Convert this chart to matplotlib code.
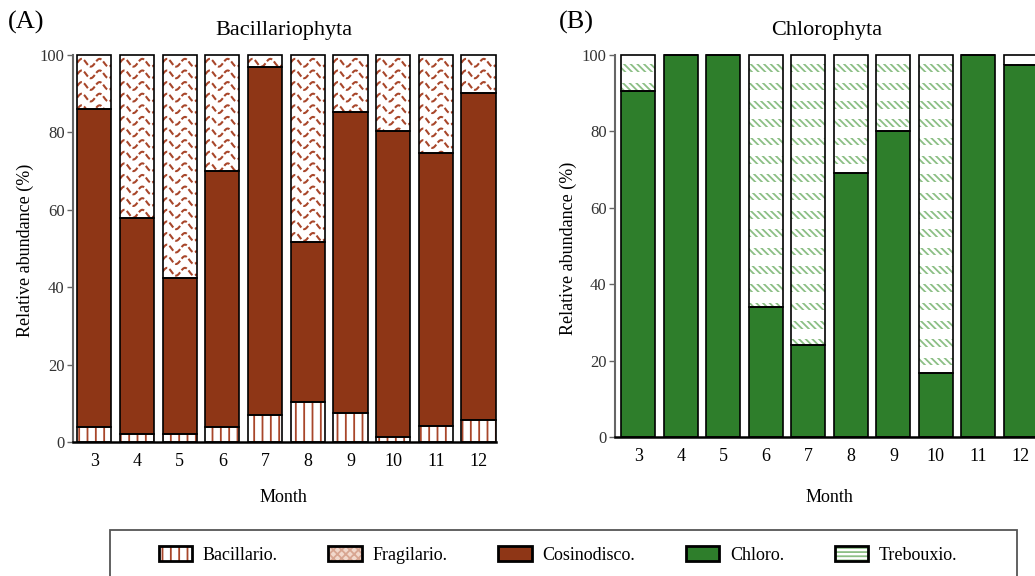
import numpy as np
import matplotlib.pyplot as plt
from matplotlib.patches import Patch, Rectangle

plt.rcParams['font.family'] = ['Liberation Serif', 'DejaVu Serif']
plt.rcParams['hatch.linewidth'] = 1.3

months = [3, 4, 5, 6, 7, 8, 9, 10, 11, 12]

# panel A - Bacillariophyta (%)
bacillario = [4.0, 2.0, 2.0, 3.8, 7.0, 10.4, 7.6, 1.2, 4.2, 5.7]
cosinodisco = [82.0, 55.8, 40.3, 66.3, 90.0, 41.4, 77.8, 79.2, 70.4, 84.6]
fragilario = [14.0, 42.2, 57.7, 29.9, 3.0, 48.2, 14.6, 19.6, 25.4, 9.7]

# panel B - Chlorophyta (%)
chloro = [90.7, 100.0, 100.0, 34.2, 24.1, 69.1, 80.0, 16.8, 100.0, 97.4]
trebouxio = [9.3, 0.0, 0.0, 65.8, 75.9, 30.9, 20.0, 83.2, 0.0, 2.6]

legend_labels = ['Bacillario.', 'Fragilario.', 'Cosinodisco.', 'Chloro.', 'Trebouxio.']

brown = '#8E3616'
brown_line = '#A8462A'
green = '#2E7E2B'
green_hatch = '#8CBF85'
W = 0.8


def style_axes(ax):
    ax.spines['top'].set_visible(False)
    ax.spines['right'].set_visible(False)
    ax.spines['left'].set_color('#666666')
    ax.spines['left'].set_linewidth(1.5)
    ax.spines['bottom'].set_color('black')
    ax.spines['bottom'].set_linewidth(1.8)
    ax.set_ylim(0, 100)
    ax.set_yticks([0, 20, 40, 60, 80, 100])
    ax.set_xticks(months)
    ax.tick_params(axis='y', length=4, width=1, color='#666666', labelsize=12,
                   labelcolor='#333333', pad=2)
    ax.tick_params(axis='x', length=0, labelsize=13, pad=8)


def outline(ax, vals, bottom):
    ax.bar(months, vals, W, bottom=bottom, fill=False, edgecolor='black',
           linewidth=1.2, zorder=4, clip_on=False)


def wavy_hatch(ax, bars):
    for rect in bars:
        x0 = rect.get_x()
        w = rect.get_width()
        y0 = rect.get_y()
        top = y0 + rect.get_height()
        xs = np.linspace(x0, x0 + w, 100)
        yy = top - 2.0
        while yy > y0 - 1.5:
            ys = yy + 1.0 * np.sin(2 * np.pi * (xs - x0) / 0.42)
            ln, = ax.plot(xs, ys, color=brown_line, lw=1.5, dashes=(3, 1.2), zorder=3)
            ln.set_clip_path(rect)
            yy -= 3.0


def band_hatch(ax, bars):
    for rect in bars:
        if rect.get_height() <= 0:
            continue
        x0 = rect.get_x()
        w = rect.get_width()
        y0 = rect.get_y()
        top = y0 + rect.get_height()
        yb = top - 4.4
        while yb > y0 - 2.0:
            band = Rectangle((x0, yb), w, 2.0, facecolor='none', edgecolor=green_hatch,
                             hatch='\\\\\\\\\\', linewidth=0, zorder=3)
            ax.add_patch(band)
            band.set_clip_path(rect)
            yb -= 4.8


fig = plt.figure(figsize=(10.35, 5.76), dpi=100)
axA = fig.add_axes([0.0705, 0.2326, 0.4083, 0.6719])
axB = fig.add_axes([0.5942, 0.2408, 0.4086, 0.6637])

# (A)
b1 = np.array(bacillario)
b2 = b1 + np.array(cosinodisco)
axA.bar(months, bacillario, W, color='white', edgecolor=brown_line, hatch='||',
        linewidth=0, zorder=2)
axA.bar(months, cosinodisco, W, bottom=b1, color=brown, linewidth=0, zorder=2)
frag_bars = axA.bar(months, fragilario, W, bottom=b2, color='white', linewidth=0, zorder=2)
wavy_hatch(axA, frag_bars)
outline(axA, bacillario, 0)
outline(axA, cosinodisco, b1)
outline(axA, fragilario, b2)
axA.set_xlim(2.5, 12.4)
style_axes(axA)

# (B)
c1 = np.array(chloro)
axB.bar(months, chloro, W, color=green, linewidth=0, zorder=2)
treb_bars = axB.bar(months, trebouxio, W, bottom=c1, color='white', linewidth=0, zorder=2)
band_hatch(axB, treb_bars)
outline(axB, chloro, 0)
outline(axB, trebouxio, c1)
axB.set_xlim(2.45, 12.4)
style_axes(axB)

# titles and labels
fig.text(26 / 1035, 1 - 22 / 576, '(A)', fontsize=19, ha='center', va='center')
fig.text(576 / 1035, 1 - 22 / 576, '(B)', fontsize=19, ha='center', va='center')
fig.text(284 / 1035, 1 - 30 / 576, 'Bacillariophyta', fontsize=16, ha='center', va='center')
fig.text(827 / 1035, 1 - 30 / 576, 'Chlorophyta', fontsize=16, ha='center', va='center')
fig.text(25 / 1035, 1 - 250 / 576, 'Relative abundance (%)', fontsize=13,
         rotation=90, ha='center', va='center')
fig.text(568 / 1035, 1 - 248 / 576, 'Relative abundance (%)', fontsize=13,
         rotation=90, ha='center', va='center')
fig.text(283 / 1035, 1 - 497 / 576, 'Month', fontsize=13, ha='center', va='center')
fig.text(829 / 1035, 1 - 497 / 576, 'Month', fontsize=13, ha='center', va='center')

# legend
def edge():
    return Patch(fill=False, edgecolor='black', linewidth=2)

handles = [
    (Patch(facecolor='white', edgecolor=brown_line, hatch='||', linewidth=0), edge()),
    (Patch(facecolor='#F2D9CD', edgecolor='#D8A692', hatch='xxxx', linewidth=0), edge()),
    (Patch(facecolor=brown, linewidth=0), edge()),
    (Patch(facecolor=green, linewidth=0), edge()),
    (Patch(facecolor='white', edgecolor=green_hatch, hatch='----', linewidth=0), edge()),
]
fig.legend(handles, legend_labels, ncol=5, frameon=False, fontsize=13,
           loc='center', bbox_to_anchor=(558 / 1035, 1 - 555 / 576),
           handlelength=1.85, handleheight=0.9, handletextpad=0.6, columnspacing=2.8)
fig.add_artist(Rectangle((110 / 1035, -0.05), 907 / 1035, 0.05 + 46 / 576,
                         transform=fig.transFigure, fill=False,
                         edgecolor='#555555', linewidth=1.3))

fig.savefig('out.png', dpi=100)
